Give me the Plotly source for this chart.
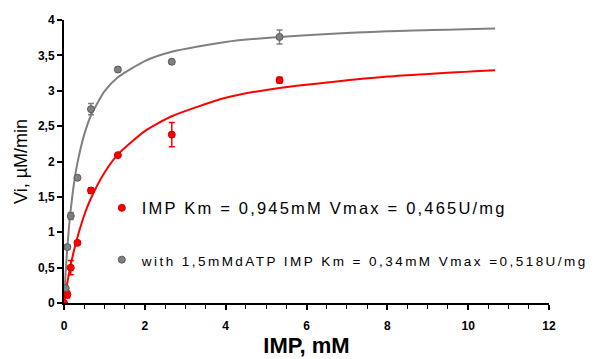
import plotly.graph_objects as go

# Measured data: IMP alone
imp_x = [0, 0.083, 0.167, 0.333, 0.667, 1.333, 2.667, 5.333]
imp_y = [0, 0.12, 0.50, 0.85, 1.59, 2.09, 2.38, 3.15]
imp_err = [0.02, 0.05, 0.10, 0.02, 0.04, 0.02, 0.17, 0.04]

# Measured data: with 1,5 mM dATP
datp_x = [0.042, 0.083, 0.167, 0.333, 0.667, 1.333, 2.667, 5.333]
datp_y = [0.21, 0.79, 1.23, 1.77, 2.74, 3.30, 3.41, 3.76]
datp_err = [0.02, 0.03, 0.05, 0.02, 0.08, 0.03, 0.03, 0.10]

# Fitted curves
fit_x = [0, 0.042, 0.083, 0.125, 0.167, 0.25, 0.333, 0.5, 0.667, 1.0, 1.333,
         2.0, 2.667, 4.0, 5.333, 8.0, 10.667]
fit_imp = [0, 0.15, 0.29, 0.42, 0.54, 0.75, 0.93, 1.24, 1.48, 1.84, 2.10,
           2.43, 2.64, 2.90, 3.04, 3.20, 3.29]
fit_datp = [0, 0.44, 0.79, 1.08, 1.32, 1.70, 1.98, 2.38, 2.65, 2.99, 3.19,
            3.42, 3.55, 3.69, 3.76, 3.84, 3.88]

legend_imp = "IMP Km = 0,945mM Vmax = 0,465U/mg"
legend_datp = "with 1,5mMdATP IMP Km = 0,34mM Vmax =0,518U/mg"

RED = "#ff0000"
GRAY = "#808080"

fig = go.Figure()
fig.add_trace(go.Scatter(x=fit_x, y=fit_datp, mode="lines", line=dict(color=GRAY, width=2, shape="spline", smoothing=0.6),
                         showlegend=False, hoverinfo="skip"))
fig.add_trace(go.Scatter(x=fit_x, y=fit_imp, mode="lines", line=dict(color=RED, width=2, shape="spline", smoothing=0.6),
                         showlegend=False, hoverinfo="skip"))
fig.add_trace(go.Scatter(x=imp_x, y=imp_y, mode="markers",
                         name='<span style="font-size:16.5px;letter-spacing:2.2px">' + legend_imp + '</span>',
                         legendgroup="a",
                         marker=dict(color=RED, size=7, line=dict(color="#cc0000", width=1)),
                         error_y=dict(type="data", array=imp_err, color=RED, thickness=1.5, width=3)))
fig.add_trace(go.Scatter(x=datp_x, y=datp_y, mode="markers",
                         name='<span style="font-size:13.5px;letter-spacing:2.45px">' + legend_datp + '</span>',
                         legendgroup="b",
                         marker=dict(color=GRAY, size=7, line=dict(color="#5a5a5a", width=1)),
                         error_y=dict(type="data", array=datp_err, color=GRAY, thickness=1.5, width=3)))

fig.update_layout(
    width=605, height=359,
    margin=dict(l=64, r=56, t=20, b=56, autoexpand=False),
    paper_bgcolor="white", plot_bgcolor="white",
    separators=", ",
    font=dict(family="Liberation Sans, Arial", color="black"),
    legend=dict(x=0.078, y=0.396, xanchor="left", yanchor="top",
                bgcolor="rgba(0,0,0,0)", tracegroupgap=28,
                font=dict(size=16, color="black"), itemwidth=30),
    xaxis=dict(range=[0, 12], dtick=2, tick0=0, showgrid=False, zeroline=False,
               showline=True, linecolor="black", linewidth=2, automargin=False,
               ticks="outside", ticklen=5, tickwidth=1.5, tickcolor="black",
               ticklabelstandoff=6,
               tickfont=dict(size=12, family="Liberation Sans, Arial"),
               minor=dict(dtick=0.5, ticks="outside", ticklen=4, tickcolor="black", tickwidth=1),
               title=dict(text="<b>IMP, mM</b>", font=dict(size=22), standoff=0)),
    yaxis=dict(range=[0, 4], dtick=0.5, tick0=0, showgrid=False, zeroline=False,
               showline=True, linecolor="black", linewidth=2, automargin=False,
               ticks="outside", ticklen=5, tickwidth=1.5, tickcolor="black",
               tickformat=".1~f",
               tickfont=dict(size=12, family="Liberation Sans, Arial"),
               title=dict(text="Vi, µM/min", font=dict(size=18), standoff=6)),
)
fig.update_xaxes(tickprefix="<b>", ticksuffix="</b>")
fig.update_yaxes(tickprefix="<b>", ticksuffix="</b>")

fig.write_html("out.html", config={"displayModeBar": False},
               post_script="document.body.style.margin='0';")
